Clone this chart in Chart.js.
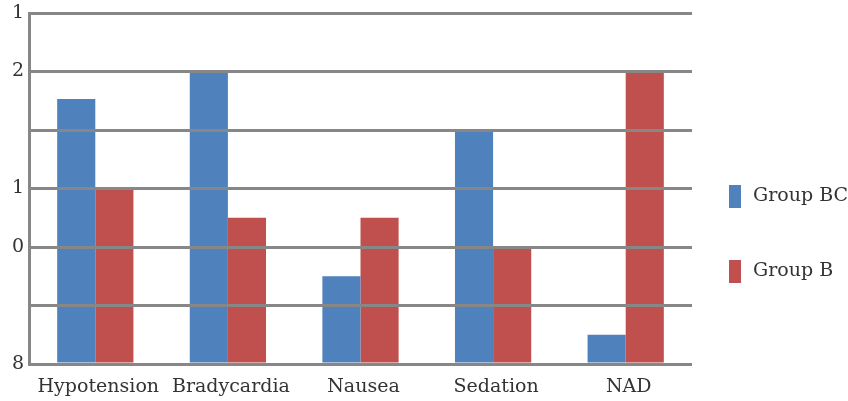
<!DOCTYPE html>
<html>
<head>
<meta charset="utf-8">
<script src="https://cdn.jsdelivr.net/npm/chart.js@4.4.0/dist/chart.umd.min.js"></script>
<style>
  html, body { margin: 0; padding: 0; background: #fff; }
  #wrap { position: relative; width: 848px; height: 401px; }
  .leg { position: absolute; left: 729px; font-family: "DejaVu Serif", serif; font-size: 19px; color: #333; white-space: nowrap; }
  .leg span { display: inline-block; width: 12px; height: 23px; vertical-align: middle; margin-right: 12px; }
</style>
</head>
<body>
<div id="wrap">
  <canvas id="chart" width="848" height="401"></canvas>
  <div class="leg" style="top:183px"><span style="background:#4f81bd"></span>Group BC</div>
  <div class="leg" style="top:258px"><span style="background:#c0504d"></span>Group B</div>
</div>
<script>
const categories = ['Hypotension', 'Bradycardia', 'Nausea', 'Sedation', 'NAD'];
const groupBC = [4.53, 5.0, 1.5, 4.0, 0.5];
const groupB = [3.0, 2.5, 2.5, 2.0, 5.0];
// tick labels as printed in the picture, bottom to top
const yTickLabels = ['8', '', '0', '1', '', '2', '1'];

function initializeChart() {
    const ctx = document.getElementById('chart').getContext('2d');
    const font = { family: '"DejaVu Serif", serif', size: 19 };
    new Chart(ctx, {
        type: 'bar',
        data: {
            labels: categories,
            datasets: [
                { label: 'Group BC', data: groupBC, backgroundColor: '#4f81bd' },
                { label: 'Group B', data: groupB, backgroundColor: '#c0504d' }
            ]
        },
        options: {
            responsive: false,
            animation: false,
            layout: { padding: { top: 13, right: 156, left: 0, bottom: 0 } },
            datasets: { bar: { categoryPercentage: 0.575, barPercentage: 1.0 } },
            plugins: { legend: { display: false }, tooltip: { enabled: false } },
            scales: {
                x: {
                    grid: { display: false },
                    border: { display: false },
                    ticks: { color: '#333', font: font, padding: 4, labelOffset: 3, maxRotation: 0 },
                    afterFit: s => { s.height = 37; }
                },
                y: {
                    min: 0, max: 6,
                    grid: { color: '#878787', lineWidth: 3, drawTicks: false, z: 1 },
                    border: { display: true, color: '#878787', width: 3, z: 1 },
                    ticks: {
                        stepSize: 1, color: '#333', font: font, padding: 5,
                        callback: v => yTickLabels[v]
                    },
                    afterFit: s => { s.width = 29; s.paddingTop = 0; s.paddingBottom = 0; }
                }
            }
        }
    });
}

if (document.readyState === 'loading') {
    document.addEventListener('DOMContentLoaded', initializeChart);
} else {
    initializeChart();
}
</script>
</body>
</html>
